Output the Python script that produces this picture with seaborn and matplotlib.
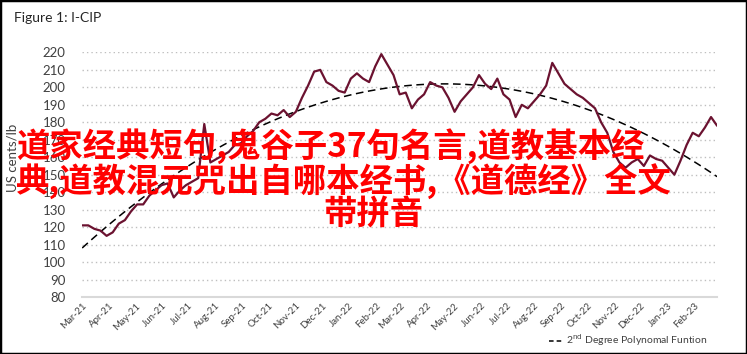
import numpy as np
import pandas as pd
import matplotlib
matplotlib.use("Agg")
import matplotlib.pyplot as plt
import matplotlib.dates as mdates
from matplotlib.patches import Rectangle
import seaborn as sns

sns.set_style("white")
plt.rcParams['font.family'] = ['Lato', 'DejaVu Sans']

# weekly I-CIP readings (US cents/lb), first week 1 Mar 2021
first_week = "2021-03-01"
icip = [121, 121, 119, 118, 115, 117, 122, 124, 129, 133,
        133, 138, 141, 144, 145, 137, 141, 144, 146, 148,
        179, 157, 159, 161, 163, 167, 168, 172, 175, 180,
        182, 185, 184, 187, 183, 186, 194, 201, 209, 210,
        203, 201, 198, 197, 205, 208, 205, 203, 212, 219,
        213, 207, 196, 197, 188, 193, 196, 203, 201, 200,
        194, 186, 192, 196, 200, 207, 202, 199, 205, 196,
        193, 183, 190, 188, 192, 196, 201, 214, 208, 202,
        199, 196, 194, 191, 188, 180, 174, 163, 157, 154,
        157, 159, 155, 161, 159, 158, 154, 150, 158, 167,
        174, 172, 177, 183, 178]

overlay_lines = ["道家经典短句,鬼谷子37句名言,道教基本经",
                 "典,道教混元咒出自哪本经书,《道德经》全文",
                 "带拼音"]

dates = pd.date_range(first_week, periods=len(icip), freq="7D")
df = pd.DataFrame({"date": dates, "icip": icip})

# 2nd degree polynomial trend of the series
t = (df["date"] - df["date"].iloc[0]).dt.days.to_numpy()
coef = np.polyfit(t, df["icip"], 2)
df["trend"] = np.polyval(coef, t)

fig = plt.figure(figsize=(7.47, 3.54), dpi=100)
ax = fig.add_axes([0.11, 0.161, 0.85, 0.691])

sns.lineplot(data=df, x="date", y="trend", ax=ax, color="black",
             lw=1.1, dashes=False, linestyle=(0, (5, 3)))
sns.lineplot(data=df, x="date", y="icip", ax=ax, color="#6b1230", lw=1.6)

ax.set_ylim(80, 220)
ax.set_yticks(range(80, 221, 10))
ax.set_xlim(dates[0], dates[-1])
ax.xaxis.set_major_locator(mdates.MonthLocator())
ax.xaxis.set_major_formatter(mdates.DateFormatter("%b-%y"))

ax.yaxis.grid(True, linestyle=(0, (1, 2.2)), color="#bfbfbf", lw=1)
ax.set_axisbelow(True)
for s in ["top", "right", "left"]:
    ax.spines[s].set_visible(False)
ax.spines["bottom"].set_color("#d9d9d9")
ax.spines["bottom"].set_linewidth(1.5)

ax.tick_params(axis="both", length=0, colors="#404040")
ax.tick_params(axis="y", labelsize=9.5, pad=12)
ax.tick_params(axis="x", labelsize=7, pad=3)
plt.setp(ax.get_xticklabels(), rotation=45, ha="right", rotation_mode="anchor")
ax.set_xlabel("")
ax.set_ylabel("")

fig.text(0.017, 0.553, "US cents/lb", rotation=90, ha="center", va="center",
         fontsize=9.5, color="#404040")
fig.text(0.019, 0.948, "Figure 1: I-CIP", ha="left", va="center",
         fontsize=10, color="#262626")

ax.plot([], [], color="black", lw=1.1, linestyle=(0, (3, 2)),
        label="2$^{\\mathrm{nd}}$ Degree Polynomal Funtion")
fig.legend(loc="lower right", bbox_to_anchor=(0.96, -0.01), frameon=False,
           fontsize=7.5, handlelength=1.3, handletextpad=0.4,
           labelcolor="#404040")

red_kw = dict(color="#ff0000", fontsize=24, fontweight="bold",
              family=["Noto Sans CJK SC", "DejaVu Sans"], va="center")
fig.text(0.022, 1 - 146 / 354, overlay_lines[0], ha="left", **red_kw)
fig.text(0.022, 1 - 182 / 354, overlay_lines[1], ha="left", **red_kw)
fig.text(0.5, 1 - 215 / 354, overlay_lines[2], ha="center", **red_kw)

fig.patches.append(Rectangle((0, 0), 1, 1, transform=fig.transFigure,
                             fill=False, edgecolor="black", lw=2.5))

fig.savefig("out.png", dpi=100)
